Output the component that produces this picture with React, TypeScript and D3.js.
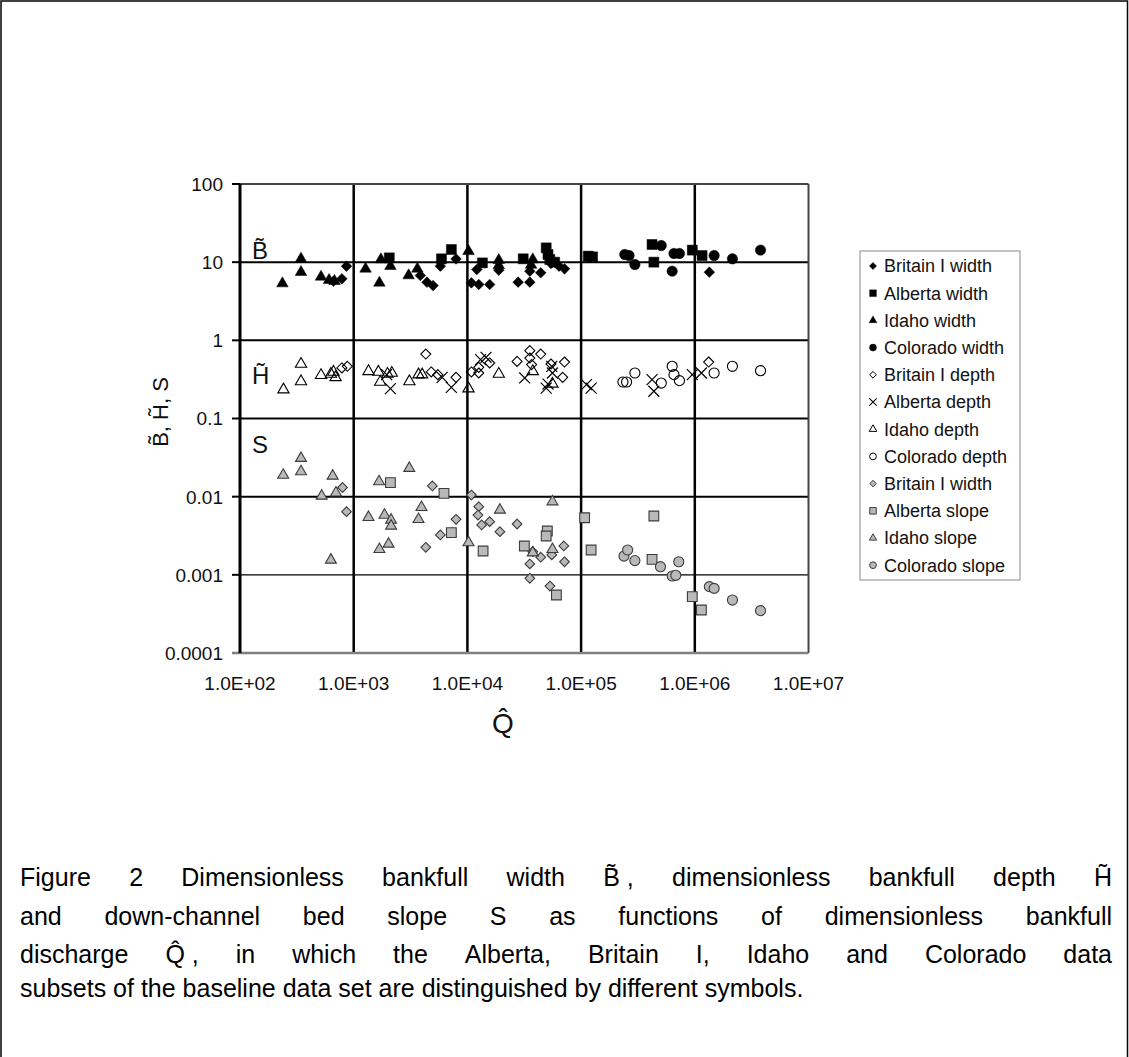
import React, { useMemo } from "react";
import * as d3 from "d3";

// [Q, value] pairs
const britainIWidth: [number, number][] = [
  [664, 5.71], [787, 6.12], [865, 8.89], [3855, 6.75], [4406, 5.55], [4989, 5.02],
  [5781, 8.89], [7943, 11.0], [10840, 5.44], [12590, 5.18], [15700, 5.18], [12100, 8.05],
  [18880, 7.91], [27930, 5.55], [35400, 5.55], [35400, 7.67], [44160, 7.31], [54330, 9.62],
  [63970, 8.89], [71450, 8.22], [1343000, 7.45],
];
const albertaWidth: [number, number][] = [
  [2056, 11.35], [5916, 11.04], [7228, 14.52], [13550, 9.79], [30970, 11.04], [49320, 15.24],
  [51170, 12.53], [53090, 10.81], [58500, 10.0], [115600, 11.94], [126200, 11.69],
  [420700, 16.83], [436500, 10.0], [950600, 14.26], [1159000, 12.16],
];
const idahoWidth: [number, number][] = [
  [236, 5.33], [344, 11.04], [344, 7.45], [516, 6.49], [607, 5.89], [678, 5.71], [1271, 8.22],
  [1683, 5.44], [1734, 10.81], [2104, 8.89], [3041, 6.75], [3631, 8.22], [10230, 13.8],
  [18880, 10.6], [18880, 9.1], [37580, 10.81], [36300, 9.2],
];
const coloradoWidth: [number, number][] = [
  [242100, 12.53], [264200, 12.16], [297200, 9.33], [507000, 16.33], [656100, 12.91],
  [732800, 12.91], [632400, 7.67], [1479000, 12.16], [2143000, 11.04], [3784000, 14.26],
];
const britainIDepth: [number, number][] = [
  [787, 0.443], [879, 0.465], [4305, 0.668], [4808, 0.394], [5495, 0.364], [7943, 0.336],
  [10840, 0.394], [12590, 0.382], [12590, 0.451], [15700, 0.513], [27350, 0.538],
  [35400, 0.738], [35400, 0.594], [44160, 0.668], [36700, 0.489], [54330, 0.498],
  [71450, 0.528], [68870, 0.336], [1324000, 0.528],
];
const albertaDepth: [number, number][] = [
  [1950, 0.364], [2104, 0.241], [6000, 0.336], [7228, 0.25], [13060, 0.566], [14590, 0.607],
  [31920, 0.33], [49320, 0.245], [51170, 0.276], [55200, 0.465], [55980, 0.382],
  [111400, 0.271], [122500, 0.245], [420700, 0.314], [436500, 0.223], [950600, 0.364],
  [1143000, 0.382],
];
const idahoDepth: [number, number][] = [
  [241, 0.234], [344, 0.498], [344, 0.298], [516, 0.357], [630, 0.371], [664, 0.394],
  [693, 0.336], [1349, 0.401], [1648, 0.394], [1710, 0.293], [1982, 0.371], [2163, 0.382],
  [3090, 0.298], [3715, 0.364], [4000, 0.364], [10230, 0.241], [18880, 0.371],
  [37580, 0.401], [55980, 0.277],
];
const coloradoDepth: [number, number][] = [
  [233300, 0.293], [251200, 0.293], [297200, 0.382], [507000, 0.284], [632400, 0.465],
  [656100, 0.364], [732800, 0.305], [1479000, 0.382], [2143000, 0.465], [3784000, 0.409],
];
const britainISlope: [number, number][] = [
  [798, 0.0131], [865, 0.00643], [4920, 0.0137], [7943, 0.00513], [5781, 0.00324],
  [4305, 0.00225], [10840, 0.0105], [12590, 0.00745], [12390, 0.00582], [13340, 0.00435],
  [15700, 0.00479], [19320, 0.00357], [27350, 0.00447], [37580, 0.00198], [35400, 0.00138],
  [44160, 0.00168], [55200, 0.0018], [70470, 0.00234], [71450, 0.00147], [35400, 0.000902],
  [53210, 0.000719],
];
const albertaSlope: [number, number][] = [
  [2104, 0.0151], [6223, 0.011], [7228, 0.00346], [13740, 0.00202], [31700, 0.00234],
  [50470, 0.00364], [49320, 0.00314], [60670, 0.000552], [107400, 0.00538], [122500, 0.00208],
  [436500, 0.00566], [420700, 0.00158], [950600, 0.000526], [1143000, 0.000355],
];
const idahoSlope: [number, number][] = [
  [240, 0.0189], [344, 0.031], [344, 0.0209], [653, 0.0184], [523, 0.0102], [698, 0.0112],
  [1671, 0.0156], [3083, 0.0231], [630, 0.00155], [1349, 0.00545], [1866, 0.00582],
  [2133, 0.00503], [2133, 0.00422], [1683, 0.00212], [2027, 0.00248], [3945, 0.00731],
  [3715, 0.00513], [10230, 0.00258], [19320, 0.00675], [55980, 0.00863], [37580, 0.00192],
  [55980, 0.00212],
];
const coloradoSlope: [number, number][] = [
  [238200, 0.00174], [256600, 0.00208], [297200, 0.00152], [498900, 0.00127],
  [722800, 0.00147], [632400, 0.000966], [680700, 0.000986], [1343000, 0.000706],
  [1479000, 0.000671], [2143000, 0.000476], [3784000, 0.000348],
];

const xTicks = [1e2, 1e3, 1e4, 1e5, 1e6, 1e7];
const xTickLabels = ["1.0E+02", "1.0E+03", "1.0E+04", "1.0E+05", "1.0E+06", "1.0E+07"];
const yTicks = [1e-4, 1e-3, 1e-2, 1e-1, 1, 10, 100];
const yTickLabels = ["0.0001", "0.001", "0.01", "0.1", "1", "10", "100"];

const captionLines = [
  "Figure 2 Dimensionless bankfull width B\u0303\u00a0, dimensionless bankfull depth H\u0303",
  "and down-channel bed slope S as functions of dimensionless bankfull",
  "discharge Q\u0302\u00a0, in which the Alberta, Britain I, Idaho and Colorado data",
  "subsets of the baseline data set are distinguished by different symbols.",
];

const FONT = "'Liberation Sans', Arial, sans-serif";
const W = 1129;
const H = 1057;
const CAPTION_FS = 25;

const symX = (d3 as any).symbolX || d3.symbolCross;
const symDiamond = (d3 as any).symbolDiamond2 || d3.symbolDiamond;

const App = () => {
  const x = d3.scaleLog().domain([1e2, 1e7]).range([240, 808.5]);
  const y = d3.scaleLog().domain([1e-4, 1e2]).range([653, 184]);

  const black = { fill: "#000", stroke: "#000", sw: 0.5 };
  const open = { fill: "none", stroke: "#000", sw: 1.1 };
  const gray = { fill: "#b9b9b9", stroke: "#3c3c3c", sw: 1.1 };

  const series = [
    { name: "Britain I width", data: britainIWidth, type: symDiamond, size: 72, ...black },
    { name: "Alberta width", data: albertaWidth, type: d3.symbolSquare, size: 100, ...black },
    { name: "Idaho width", data: idahoWidth, type: d3.symbolTriangle, size: 58, ...black },
    { name: "Colorado width", data: coloradoWidth, type: d3.symbolCircle, size: 85, ...black },
    { name: "Britain I depth", data: britainIDepth, type: symDiamond, size: 64, ...open },
    { name: "Alberta depth", data: albertaDepth, type: symX, size: 80, ...open, sw: 1.2 },
    { name: "Idaho depth", data: idahoDepth, type: d3.symbolTriangle, size: 55, ...open },
    { name: "Colorado depth", data: coloradoDepth, type: d3.symbolCircle, size: 80, ...open },
    { name: "Britain I width", data: britainISlope, type: symDiamond, size: 60, ...gray },
    { name: "Alberta slope", data: albertaSlope, type: d3.symbolSquare, size: 95, ...gray },
    { name: "Idaho slope", data: idahoSlope, type: d3.symbolTriangle, size: 52, ...gray },
    { name: "Colorado slope", data: coloradoSlope, type: d3.symbolCircle, size: 80, ...gray },
  ];

  // justified caption: measure words, spread the gaps
  const caption = useMemo(() => {
    const ctx = document.createElement("canvas").getContext("2d")!;
    ctx.font = `${CAPTION_FS}px 'Liberation Sans'`;
    const left = 20;
    const right = 1112;
    return captionLines.map((line, i) => {
      const words = line.split(" ");
      const widths = words.map((w) => ctx.measureText(w).width);
      const total = d3.sum(widths);
      const justify = i < captionLines.length - 1;
      const gap = justify ? (right - left - total) / (words.length - 1) : ctx.measureText(" ").width;
      let cx = left;
      return words.map((w, j) => {
        const pos = cx;
        cx += widths[j] + gap;
        return { w, x: pos };
      });
    });
  }, []);
  const captionY = [886, 925, 963, 997];

  const legendX = 860;
  const legendY = 251;
  const rowH = 27.2;

  return (
    <svg width={W} height={H} style={{ position: "absolute", left: 0, top: 0, background: "#fff" }} fontFamily={FONT}>
      <rect x={0} y={0} width={W} height={H} fill="#fff" />
      <path d={`M1,${H} V1 H1127.5 V${H}`} fill="none" stroke="#000" strokeWidth={1.5} />

      {/* grid */}
      {xTicks.slice(1, -1).map((t) => (
        <line key={"vx" + t} x1={x(t)} x2={x(t)} y1={y(100)} y2={y(1e-4)} stroke="#000" strokeWidth={2.5} />
      ))}
      {yTicks.slice(2, -1).map((t) => (
        <line key={"hy" + t} x1={x(1e2)} x2={x(1e7)} y1={y(t)} y2={y(t)} stroke="#000" strokeWidth={2} />
      ))}
      <line x1={x(1e2)} x2={x(1e7)} y1={y(1e-3)} y2={y(1e-3)} stroke="#000" strokeWidth={1.1} />
      <line x1={x(1e2)} x2={x(1e7)} y1={y(100)} y2={y(100)} stroke="#444" strokeWidth={2} />
      <line x1={x(1e7)} x2={x(1e7)} y1={y(100)} y2={y(1e-4)} stroke="#444" strokeWidth={2} />
      <line x1={232} x2={x(1e7)} y1={y(1e-4)} y2={y(1e-4)} stroke="#808080" strokeWidth={2.5} />
      <line x1={x(1e2)} x2={x(1e2)} y1={y(100)} y2={y(1e-4)} stroke="#000" strokeWidth={3} />
      {yTicks.slice(1).map((t) => (
        <line key={"yt" + t} x1={232} x2={x(1e2)} y1={y(t)} y2={y(t)} stroke="#000" strokeWidth={2} />
      ))}

      {/* tick labels */}
      {yTicks.map((t, i) => (
        <text key={"yl" + t} x={223} y={y(t)} dy="0.36em" textAnchor="end" fontSize={19} fill="#111">
          {yTickLabels[i]}
        </text>
      ))}
      {xTicks.map((t, i) => (
        <text key={"xl" + t} x={x(t)} y={690} textAnchor="middle" fontSize={19} fill="#111">
          {xTickLabels[i]}
        </text>
      ))}

      {/* axis titles */}
      <text x={503} y={733} textAnchor="middle" fontSize={28} fill="#111">
        {"Q\u0302"}
      </text>
      <text transform="translate(168,412) rotate(-90)" textAnchor="middle" fontSize={22} fill="#111">
        {"B\u0303, H\u0303, S"}
      </text>

      {/* in-plot labels */}
      <text x={252} y={259} fontSize={24} fill="#111">{"B\u0303"}</text>
      <text x={252} y={384} fontSize={24} fill="#111">{"H\u0303"}</text>
      <text x={252} y={453} fontSize={24} fill="#111">S</text>

      {/* points */}
      {series.map((s, si) => {
        const p = d3.symbol().type(s.type).size(s.size)() as string;
        return (
          <g key={"s" + si}>
            {s.data.map((d, j) => (
              <path
                key={j}
                d={p}
                transform={`translate(${x(d[0])},${y(d[1])})`}
                fill={s.fill}
                stroke={s.stroke}
                strokeWidth={s.sw}
              />
            ))}
          </g>
        );
      })}

      {/* legend */}
      <rect x={legendX} y={legendY} width={160} height={329} fill="#fff" stroke="#8a8a8a" strokeWidth={1} />
      {series.map((s, i) => {
        const p = d3.symbol().type(s.type).size(s.size * 0.45)() as string;
        const cy = legendY + 15 + i * rowH;
        return (
          <g key={"lg" + i}>
            <path d={p} transform={`translate(${legendX + 13},${cy})`} fill={s.fill} stroke={s.stroke} strokeWidth={s.sw * 0.9} />
            <text x={legendX + 24} y={cy} dy="0.36em" fontSize={18} fill="#111">
              {s.name}
            </text>
          </g>
        );
      })}

      {/* caption */}
      {caption.map((words, i) => (
        <g key={"cap" + i}>
          {words.map((w, j) => (
            <text key={j} x={w.x} y={captionY[i]} fontSize={CAPTION_FS} fill="#000" style={{ whiteSpace: "pre" }}>
              {w.w}
            </text>
          ))}
        </g>
      ))}
    </svg>
  );
};

export default App;
